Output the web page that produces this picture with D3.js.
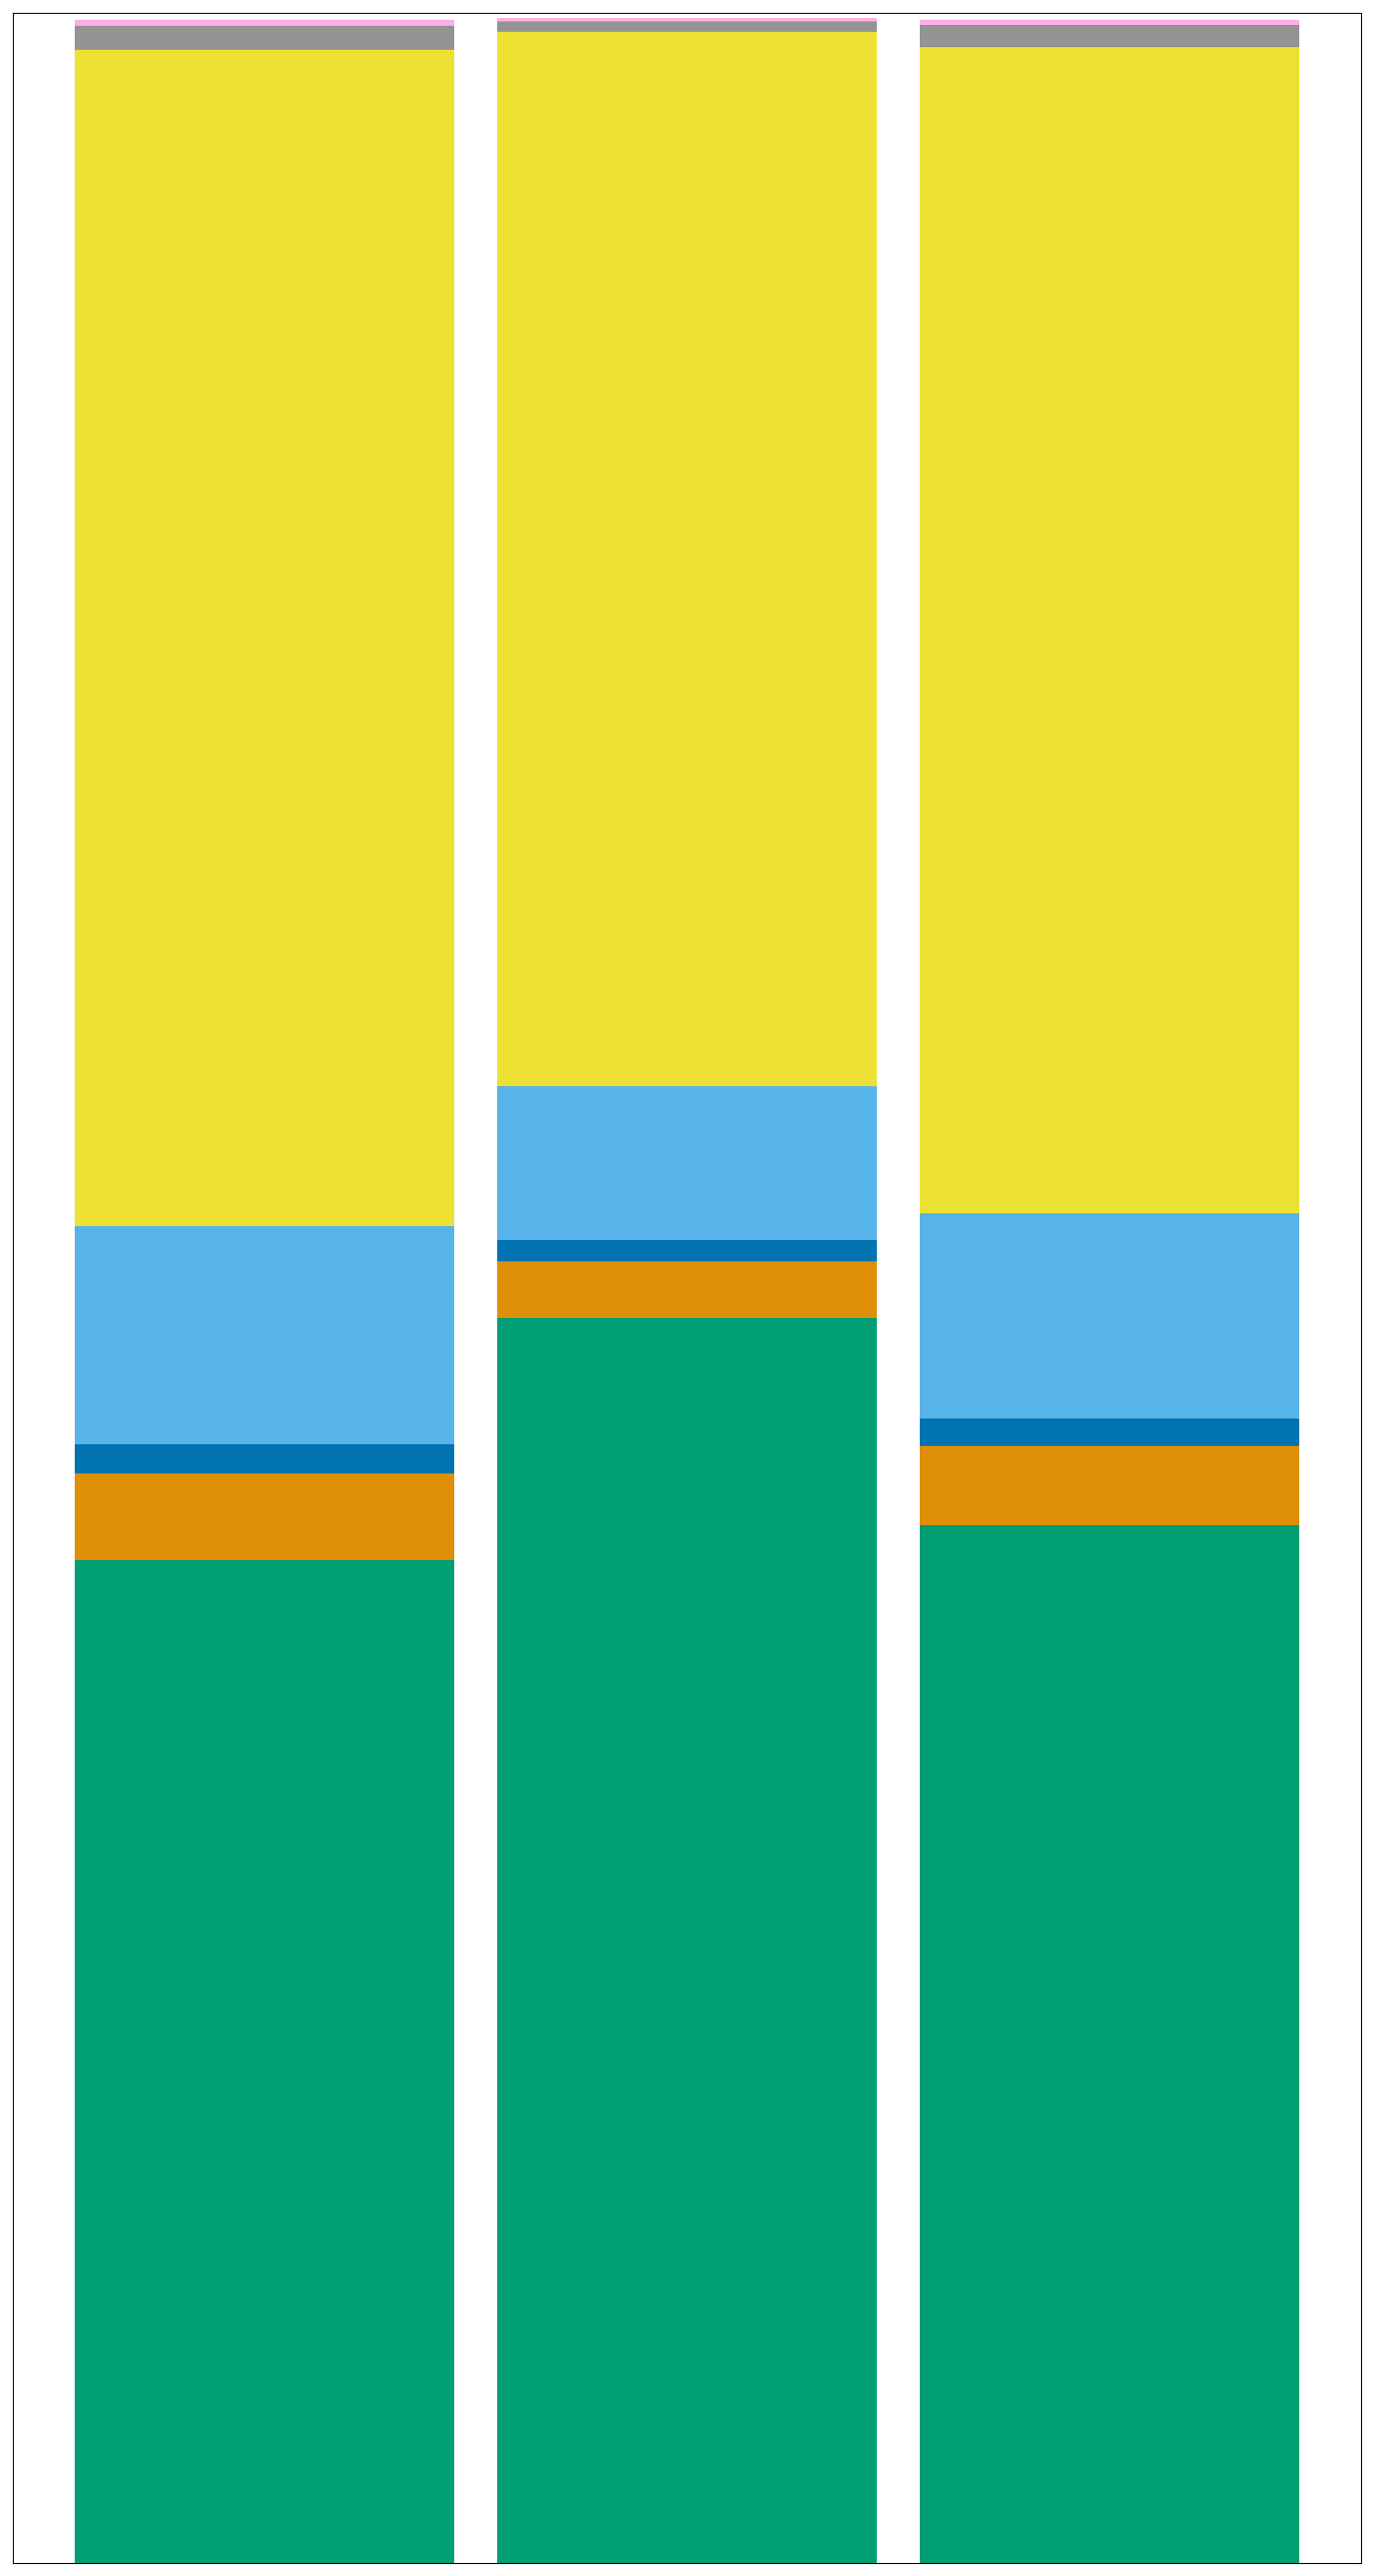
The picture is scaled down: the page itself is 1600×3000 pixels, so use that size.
<!DOCTYPE html>
<html>
<head>
<meta charset="utf-8">
<script src="https://cdn.jsdelivr.net/npm/d3@7"></script>
<style>
  html, body { margin: 0; padding: 0; background: #ffffff; }
  svg { display: block; }
</style>
</head>
<body>
<div id="chart"></div>
<script>
// Categories (no labels shown in the chart)
const categories = ["Group 1", "Group 2", "Group 3"];

// Series stacked bottom to top
const seriesNames = ["green", "orange", "blue", "lightblue", "yellow", "gray", "pink"];
const seriesColors = ["#029E73", "#DE8F05", "#0173B2", "#56B4E9", "#ECE133", "#949494", "#FBAFE4"];

// Values (percent share) per series, one per category
const greenValues     = [39.43, 48.95, 40.82];
const orangeValues    = [3.41, 2.23, 3.11];
const blueValues      = [1.15, 0.84, 1.08];
const lightblueValues = [8.58, 6.04, 8.07];
const yellowValues    = [46.25, 41.46, 45.85];
const grayValues      = [0.95, 0.41, 0.88];
const pinkValues      = [0.24, 0.14, 0.20];

const yMax = 100.27;

const seriesValues = [greenValues, orangeValues, blueValues, lightblueValues, yellowValues, grayValues, pinkValues];

const table = categories.map((c, i) => {
  const row = { category: c };
  seriesNames.forEach((s, k) => { row[s] = seriesValues[k][i]; });
  return row;
});

const W = 1600, H = 3000;
const frame = { left: 15, right: 1585, top: 15, bottom: 2985 };

const svg = d3.select("#chart").append("svg")
  .attr("width", W).attr("height", H);

const x = d3.scaleBand()
  .domain(categories)
  .range([frame.left, frame.right])
  .paddingInner(50 / 492)
  .paddingOuter((71 - 25) / 492 + 0);

// Ensure exact layout: bar width 442, step 492, first bar at 86
x.paddingInner(50 / 492).paddingOuter(0.5 * (1570 - 3 * 442 - 2 * 50) / 492);

const y = d3.scaleLinear().domain([0, yMax]).range([frame.bottom, frame.top]);

const stack = d3.stack().keys(seriesNames);
const stacked = stack(table);

svg.append("g").selectAll("g")
  .data(stacked)
  .join("g")
  .attr("fill", (d, i) => seriesColors[i])
  .selectAll("rect")
  .data(d => d)
  .join("rect")
  .attr("x", d => x(d.data.category))
  .attr("width", x.bandwidth())
  .attr("y", d => y(d[1]))
  .attr("height", d => y(d[0]) - y(d[1]))
  .attr("shape-rendering", "crispEdges");

// Axes frame (no ticks/labels)
svg.append("rect")
  .attr("x", frame.left + 0.5)
  .attr("y", frame.top + 0.5)
  .attr("width", frame.right - frame.left)
  .attr("height", frame.bottom - frame.top)
  .attr("fill", "none")
  .attr("stroke", "#000")
  .attr("stroke-width", 1.2);
</script>
</body>
</html>
